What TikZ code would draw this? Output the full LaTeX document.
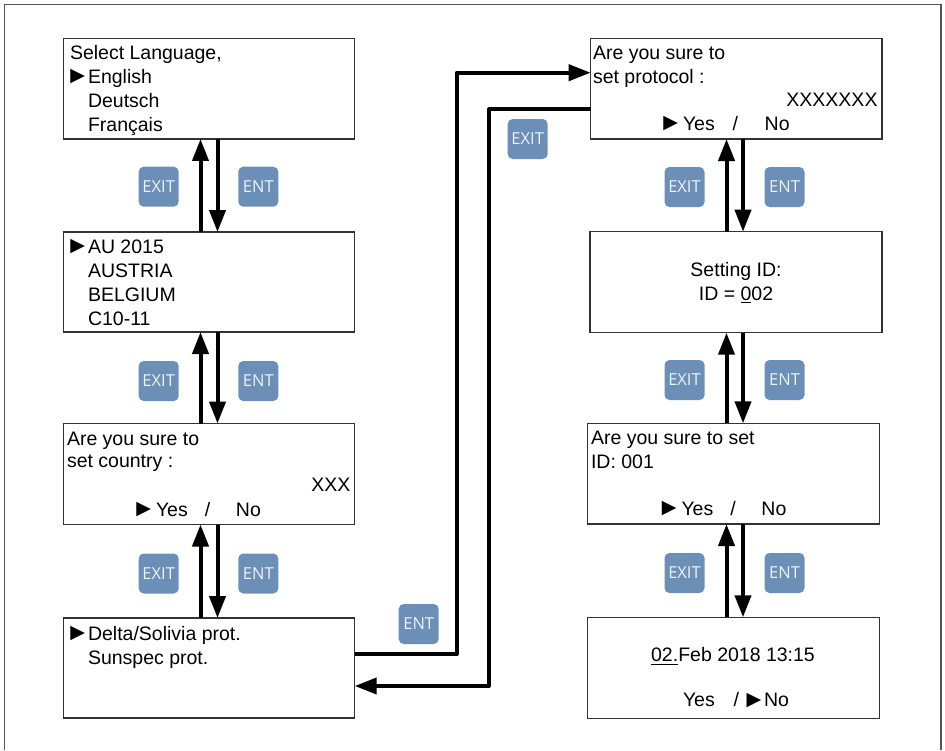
\documentclass[tikz,border=0pt]{standalone}
\usepackage{fontspec}
\usepackage{graphicx}
\setmainfont{Liberation Sans}
\newfontfamily\btnfont{Open Sans}
\usetikzlibrary{arrows.meta}
\definecolor{btnblue}{HTML}{6B8FB6}
\definecolor{btntext}{HTML}{EEF2F7}
\definecolor{framegray}{HTML}{555555}
\definecolor{boxline}{HTML}{333333}
\newcommand\uln[1]{\sbox0{#1}\rlap{\rule[-3.3pt]{\wd0}{1pt}}\usebox0}
\newcommand\tri{\hspace{-4.5pt}\raisebox{-0.8pt}{\scalebox{1.25}{►}}}
\newcommand\ptr{\makebox[18pt][l]{\tri}}
\begin{document}
\begin{tikzpicture}[x=1pt, y=-1pt,
  lbl/.style={inner sep=0pt, outer sep=0pt, anchor=base west, font=\fontsize{19.5}{24}\selectfont},
  lblr/.style={lbl, anchor=base east},
  lblc/.style={lbl, anchor=base},
  screen/.style={draw=boxline, line width=1.3pt, inner sep=0pt, outer sep=0pt},
  btn/.style={fill=btnblue, rounded corners=5pt, minimum width=40pt, minimum height=40pt,
    inner sep=0pt, text=btntext, font=\btnfont\fontsize{16.5}{17}\selectfont},
  flow/.style={line width=4pt, line join=round, -{Triangle[length=22pt,width=16pt]}},
  frame/.style={draw=framegray, line width=1.5pt}]
\useasboundingbox (0,0) rectangle (945,750);
\draw[frame] (4.5,750) -- (4.5,4.3) -- (941,4.3) -- (941,750);

% screens
\node[screen, minimum width=291.4pt, minimum height=100.7pt] (b1) at (209,88.6) {};
\node[screen, minimum width=291.4pt, minimum height=100pt] (b2) at (209,282) {};
\node[screen, minimum width=291.4pt, minimum height=101pt] (b3) at (209,474) {};
\node[screen, minimum width=291.4pt, minimum height=100pt] (b4) at (209,668) {};
\node[screen, minimum width=291.3pt, minimum height=100.7pt] (b5) at (736.3,88.7) {};
\node[screen, minimum width=292pt, minimum height=101pt] (b6) at (736,282.2) {};
\node[screen, minimum width=291.7pt, minimum height=100.7pt] (b7) at (733.3,473.7) {};
\node[screen, minimum width=292pt, minimum height=101pt] (b8) at (733.3,667.8) {};

% texts
\node[lbl] (t1a) at (70,59) {Select Language,};
\node[lbl] (t1b) at (70,83) {\ptr English};
\node[lbl] (t1c) at (88,107) {Deutsch};
\node[lbl] (t1d) at (88,131) {Français};

\node[lbl] (t2a) at (70,253) {\ptr AU 2015};
\node[lbl] (t2b) at (88,277) {AUSTRIA};
\node[lbl] (t2c) at (88,301) {BELGIUM};
\node[lbl] (t2d) at (88,325) {C10-11};

\node[lbl] (t3a) at (67,445) {Are you sure to};
\node[lbl] (t3b) at (67,467.5) {set country :};
\node[lblr] (t3c) at (350.5,491.7) {XXX};
\node[lbl] (t3d) at (136,516) {\makebox[20pt][l]{\tri}\makebox[49pt][l]{Yes}\makebox[31pt][l]{/}No};

\node[lbl] (t4a) at (70,640) {\ptr Delta/Solivia prot.};
\node[lbl] (t4b) at (88,664) {Sunspec prot.};

\node[lbl] (t5a) at (593,59.3) {Are you sure to};
\node[lbl] (t5b) at (593,83.3) {set protocol :};
\node[lblr] (t5c) at (877.5,106.7) {XXXXXXX};
\node[lbl] (t5d) at (663,130) {\makebox[20pt][l]{\tri}\makebox[49.7pt][l]{Yes}\makebox[32pt][l]{/}No};

\node[lblc] (t6a) at (736,276.7) {Setting ID:};
\node[lblc] (t6b) at (736,300) {ID = \uln{0}02};

\node[lbl] (t7a) at (591,444.3) {Are you sure to set};
\node[lbl] (t7b) at (591,468) {ID: 001};
\node[lbl] (t7c) at (661.5,515) {\makebox[20pt][l]{\tri}\makebox[49pt][l]{Yes}\makebox[31pt][l]{/}No};

\node[lblc] (t8a) at (733,661.7) {\uln{02.}Feb 2018 13:15};
\node[lbl] (t8b) at (683,706.7) {\makebox[50.7pt][l]{Yes}\makebox[12.7pt][l]{/}\makebox[17.6pt][l]{\tri}No};

% buttons
\node[btn] (x1) at (158.7,186.7) {EXIT};
\node[btn] (n1) at (258.3,186.7) {ENT};
\node[btn] (x2) at (158.7,381) {EXIT};
\node[btn] (n2) at (258.3,381) {ENT};
\node[btn] (x3) at (158.7,573.5) {EXIT};
\node[btn] (n3) at (258.3,573.5) {ENT};
\node[btn] (x4) at (684.5,187) {EXIT};
\node[btn] (n4) at (784.5,187) {ENT};
\node[btn] (x5) at (684.5,380) {EXIT};
\node[btn] (n5) at (784.5,380) {ENT};
\node[btn] (x6) at (684.5,573) {EXIT};
\node[btn] (n6) at (784.5,573) {ENT};
\node[btn] (x7) at (527.7,139) {EXIT};
\node[btn] (n7) at (418.7,624) {ENT};

% vertical arrow pairs
\coordinate (lu) at (200.5,0);
\coordinate (ld) at (217.5,0);
\coordinate (ru) at (726.5,0);
\coordinate (rd) at (743,0);
\draw[flow] (lu |- b2.north) -- (lu |- b1.south);
\draw[flow] (ld |- b1.south) -- (ld |- b2.north);
\draw[flow] (lu |- b3.north) -- (lu |- b2.south);
\draw[flow] (ld |- b2.south) -- (ld |- b3.north);
\draw[flow] (lu |- b4.north) -- (lu |- b3.south);
\draw[flow] (ld |- b3.south) -- (ld |- b4.north);
\draw[flow] (ru |- b6.north) -- (ru |- b5.south);
\draw[flow] (rd |- b5.south) -- (rd |- b6.north);
\draw[flow] (ru |- b7.north) -- (ru |- b6.south);
\draw[flow] (rd |- b6.south) -- (rd |- b7.north);
\draw[flow] (ru |- b8.north) -- (ru |- b7.south);
\draw[flow] (rd |- b7.south) -- (rd |- b8.north);

% cross connectors
\coordinate (k1) at (457,72.7);
\coordinate (k2) at (489,109);
\draw[flow] ([yshift=14pt]b4.east) -| (k1) -- (k1 -| b5.west);
\draw[flow] (k2 -| b5.west) -- (k2) |- ([yshift=-18pt]b4.east);
\end{tikzpicture}
\end{document}
